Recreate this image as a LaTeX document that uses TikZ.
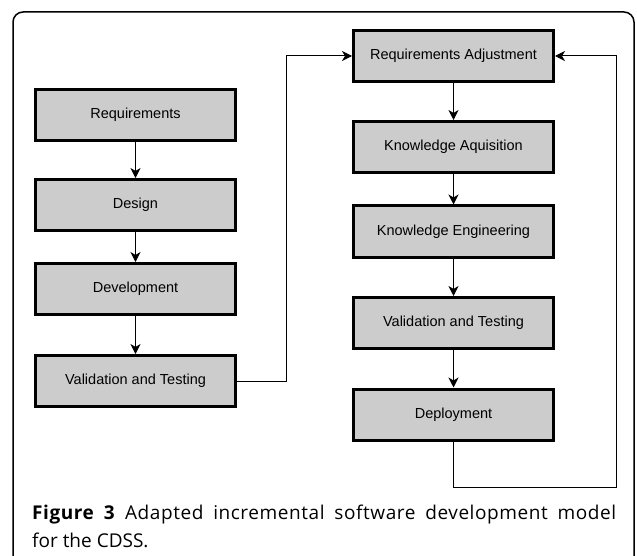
\documentclass[tikz,border=0pt]{standalone}
\usepackage{fontspec}
\setmainfont{Liberation Sans}
\newfontfamily\capfont{Open Sans}
\newfontfamily\capwide[LetterSpace=3]{Open Sans}
\usetikzlibrary{arrows.meta}
\definecolor{boxgray}{HTML}{CCCCCC}

\begin{document}
\begin{tikzpicture}[x=1pt, y=-1pt,
  phase/.style={draw, line width=3pt, fill=boxgray, minimum width=200pt, minimum height=51pt, inner sep=0pt, font=\fontsize{14.5}{17}\selectfont},
  flow/.style={line width=1pt, -{Stealth[length=10pt,width=10pt,inset=3pt]}}]
				\useasboundingbox (0,0) rectangle (637,556);

				% Outer frame, open at the bottom
				\draw[line width=1.5pt, rounded corners=10pt] (13,556) -- (13,12) -- (634,12) -- (634,556);

				% First pass
				\node[phase] (req) at (135.5,115) {Requirements};
				\node[phase] (des) at (135.5,205) {Design};
				\node[phase] (dev) at (135.5,289) {Development};
				\node[phase] (val) at (135.5,381) {Validation and Testing};

				% Increments
				\node[phase] (adj) at (453.5,56) {Requirements Adjustment};
				\node[phase] (acq) at (453.5,147) {Knowledge Aquisition};
				\node[phase] (eng) at (453.5,231.5) {Knowledge Engineering};
				\node[phase] (tst) at (453.5,323) {Validation and Testing};
				\node[phase] (dep) at (453.5,414.5) {Deployment};

				\coordinate (jog) at (286,0);
				\coordinate (loop) at (616,487);

				\draw[flow] (req) -- (des);
				\draw[flow] (des) -- (dev);
				\draw[flow] (dev) -- (val);
				\draw[flow] (val.east) -- (val.east -| jog) |- (adj.west);
				\draw[flow] (adj) -- (acq);
				\draw[flow] (acq) -- (eng);
				\draw[flow] (eng) -- (tst);
				\draw[flow] (tst) -- (dep);
				\draw[flow] (dep.south) |- (loop) |- (adj.east);

				% Caption
				\node[anchor=north west, inner sep=0pt, text width=584pt, align=justify, font=\capfont\fontsize{19}{28}\selectfont] (cap) at (32,505)
				{{\capwide\textbf{Figure 3} Adapted incremental software development model}\linebreak for the CDSS.};
\end{tikzpicture}
\end{document}
